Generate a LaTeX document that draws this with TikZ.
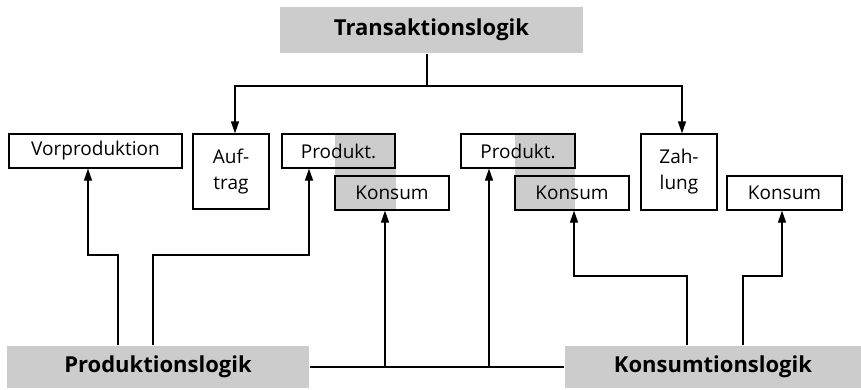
\documentclass[tikz,border=0pt]{standalone}
\usepackage{fontspec}
\setmainfont{Open Sans}
\usetikzlibrary{arrows.meta}
\definecolor{boxgray}{RGB}{204,204,204}
\begin{document}
\begin{tikzpicture}[x=1pt,y=-1pt,
  line width=1.2pt,
  arr/.style={-{Triangle[length=12pt,width=8pt]}},
  logic/.style={fill=boxgray,inner sep=0pt,font=\fontsize{22}{26}\selectfont\bfseries},
  plain/.style={draw,inner sep=0pt,font=\fontsize{19}{22}\selectfont},
  tall/.style={plain,align=center,font=\fontsize{19}{26}\selectfont}]
\useasboundingbox (0,0) rectangle (861,389);
% gray columns behind Produkt./Konsum pairs
\fill[boxgray] (335,134) rectangle (396,210);
\fill[boxgray] (515,134) rectangle (575,210);
% logic boxes
\node[logic,minimum width=303pt,minimum height=46pt] (T) at (431.5,30) {Transaktionslogik};
\node[logic,minimum width=302pt,minimum height=42pt] (prod) at (158,367) {Produktionslogik};
\node[logic,minimum width=296pt,minimum height=42pt] (kons) at (713,367) {Konsumtionslogik};
% boxes
\node[plain,minimum width=173pt,minimum height=34pt] (vorp) at (95.5,151) {Vorproduktion};
\node[tall,minimum width=76pt,minimum height=75pt] (auft) at (231,171.5) {Auf-\\trag};
\node[plain,minimum width=113pt,minimum height=34pt] (p1) at (338.5,151) {Produkt.};
\node[plain,minimum width=114pt,minimum height=34pt] (k1) at (392,193) {Konsum};
\node[plain,minimum width=114pt,minimum height=34pt] (p2) at (518,151) {Produkt.};
\node[plain,minimum width=114pt,minimum height=34pt] (k2) at (572,193) {Konsum};
\node[tall,minimum width=76pt,minimum height=76pt] (zahl) at (679,172) {Zah-\\lung};
\node[plain,minimum width=115pt,minimum height=34pt] (k3) at (784.5,193) {Konsum};
% bend points
\coordinate (t0) at (427,86);
\coordinate (ta) at (235,86);
\coordinate (tz) at (682,86);
\coordinate (a1) at (118,255);
\coordinate (a2) at (88,255);
\coordinate (b1) at (153,255);
\coordinate (b2) at (309,255);
\coordinate (m) at (0,367);
\coordinate (c1) at (385,367);
\coordinate (c2) at (489,367);
\coordinate (d1) at (687,276);
\coordinate (d2) at (574,276);
\coordinate (e1) at (743,276);
\coordinate (e2) at (782,276);
% top connectors
\draw (T.south -| t0) -- (t0);
\draw[arr] (t0) -- (ta) -- (auft.north -| ta);
\draw[arr] (t0) -- (tz) -- (zahl.north -| tz);
% production logic connectors
\draw[arr] (prod.north -| a1) -- (a1) -- (a2) -- (vorp.south -| a2);
\draw[arr] (prod.north -| b1) -- (b1) -- (b2) -- (p1.south -| b2);
% middle line
\draw (prod.east |- m) -- (kons.west |- m);
\draw[arr] (c1) -- (k1.south -| c1);
\draw[arr] (c2) -- (p2.south -| c2);
% consumption logic connectors
\draw[arr] (kons.north -| d1) -- (d1) -- (d2) -- (k2.south -| d2);
\draw[arr] (kons.north -| e1) -- (e1) -- (e2) -- (k3.south -| e2);
\end{tikzpicture}
\end{document}
